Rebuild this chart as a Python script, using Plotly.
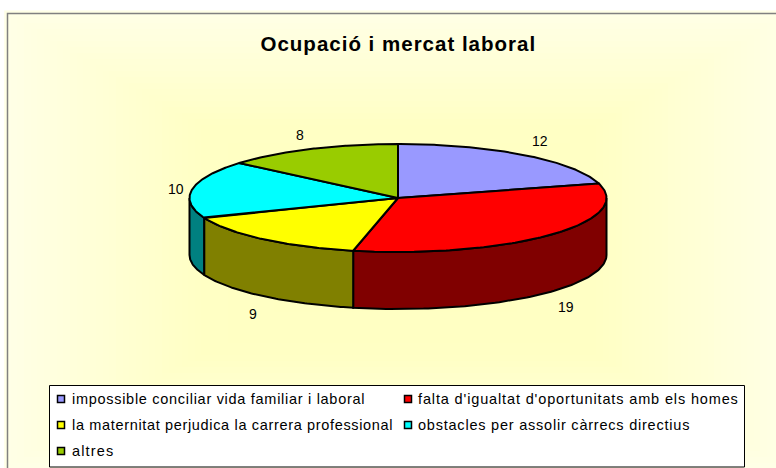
import numpy as np
import plotly.graph_objects as go

TITLE = "Ocupació i mercat laboral"
categories = [
    "impossible conciliar vida familiar i laboral",
    "falta d'igualtat d'oportunitats amb els homes",
    "la maternitat perjudica la carrera professional",
    "obstacles per assolir càrrecs directius",
    "altres",
]
values = [12, 19, 9, 10, 8]
top_colors = ["#9999FF", "#FF0000", "#FFFF00", "#00FFFF", "#99CC00"]
side_colors = ["#4C4C80", "#800000", "#808000", "#008080", "#4C6600"]

W, H = 776, 468
CX, CY, RX, RY, DEPTH = 398, 198, 208.5, 54, 57
PANEL = (7.5, 13.5, 790, 490)
LEG = (49.5, 385.5, 744.5, 467)

def ell(t):
    return CX + RX*np.sin(t), CY - RY*np.cos(t)

fig = go.Figure()

# gradient background
gx = np.linspace(PANEL[0], PANEL[2], 120)
gy = np.linspace(PANEL[1], PANEL[3], 80)
mx, my = 398, 240
hw, hh = 391, 227
XX, YY = np.meshgrid(gx, gy)
Z = np.maximum(np.abs(XX-mx)/hw, np.abs(YY-my)/hh).clip(0, 1)
fig.add_trace(go.Heatmap(x=gx, y=gy, z=Z, zmin=0, zmax=1, showscale=False, hoverinfo="skip",
    colorscale=[[0, "#FFFFC0"], [0.5, "#FFFFC4"], [1, "#FFFFE6"]]))

total = sum(values)
edges = np.cumsum([0]+values)/total*2*np.pi
LINE = dict(color="#000000", width=2)

# side walls, back to front
order = sorted(range(len(values)), key=lambda i: -abs(((edges[i]+edges[i+1])/2)-np.pi))
for i in order:
    a, b = max(edges[i], np.pi/2), min(edges[i+1], 3*np.pi/2)
    if b <= a:
        continue
    t = np.linspace(a, b, 80)
    x, y = ell(t)
    fig.add_trace(go.Scatter(x=np.r_[x, x[::-1], x[0]], y=np.r_[y, y[::-1]+DEPTH, y[0]], mode="lines",
        fill="toself", fillcolor=side_colors[i], line=LINE, showlegend=False, hoverinfo="skip"))

# top faces
for i in range(len(values)):
    t = np.linspace(edges[i], edges[i+1], 120)
    x, y = ell(t)
    fig.add_trace(go.Scatter(x=np.r_[CX, x, CX], y=np.r_[CY, y, CY], mode="lines", name=categories[i],
        fill="toself", fillcolor=top_colors[i], line=LINE, showlegend=False,
        hovertemplate=categories[i]+": %{customdata}<extra></extra>", customdata=[values[i]]*(len(x)+2)))

# value labels
label_xy = {0: (540, 141), 1: (566, 307), 2: (253, 314), 3: (176, 189), 4: (300, 135)}
annos = []
for i, v in enumerate(values):
    lx, ly = label_xy[i]
    annos.append(dict(x=lx, y=ly, text=str(v), showarrow=False, font=dict(family="Liberation Sans", size=14, color="#000000")))

# legend
rows = [(61, 399, 9), (408, 399, 8), (61, 425, 9), (408, 425, 8), (61, 451, 9)]
shapes = [
    dict(type="rect", x0=PANEL[0], y0=PANEL[1], x1=PANEL[2], y1=PANEL[3], line=dict(color="#808080", width=1.5), layer="above"),
    dict(type="rect", x0=LEG[0], y0=LEG[1], x1=LEG[2], y1=LEG[3], line=dict(color="#000000", width=1), fillcolor="#FFFFFF", layer="above"),
]
for i, (lx, ly, gap) in enumerate(rows):
    shapes.append(dict(type="rect", x0=lx-3.5, x1=lx+3.5, y0=ly-3.5, y1=ly+3.5, fillcolor=top_colors[i],
        line=dict(color="#000000", width=1.5), layer="above"))
    annos.append(dict(x=lx+gap, y=ly, text=categories[i], xanchor="left", align="left", showarrow=False,
        font=dict(family="Liberation Sans", size=14.5, color="#000000")))
annos.append(dict(x=398, y=43, text=TITLE, showarrow=False, font=dict(family="Liberation Sans", size=20.5, color="#000000", weight="bold")))

fig.update_layout(width=W, height=H, margin=dict(l=0, r=0, t=0, b=0), paper_bgcolor="#FFFFFF", plot_bgcolor="#FFFFFF",
    showlegend=False, shapes=shapes, annotations=annos,
    xaxis=dict(range=[0, W], visible=False, fixedrange=True), yaxis=dict(range=[H, 0], visible=False, fixedrange=True))

POST = """
document.documentElement.style.overflow='hidden';
document.body.style.margin='0';
var sp={'impossible':0.71,'falta':0.86,'la':0.66,'obstacles':0.78,'altres':1.15,'Ocupació':1};
document.querySelectorAll('.annotation-text').forEach(function(t){
  var k=t.textContent.split(' ')[0];
  if(sp[k]){t.style.letterSpacing=sp[k]+'px';}
});
"""
fig.write_html("out.html", post_script=POST, config={"displayModeBar": False})
